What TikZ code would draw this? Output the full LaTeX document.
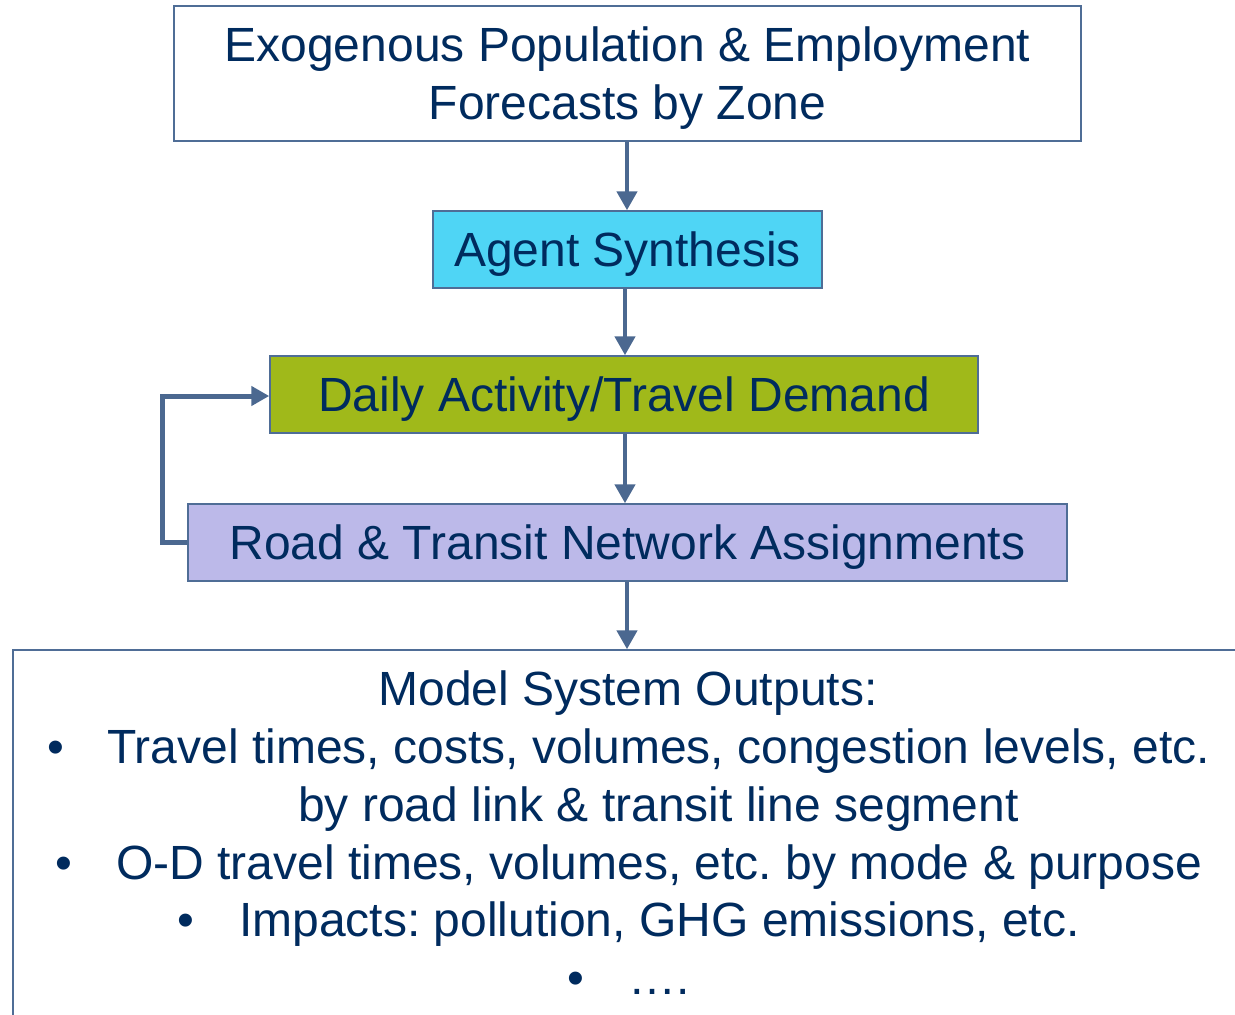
\documentclass[tikz,border=0pt]{standalone}
\usepackage{fontspec}
\setmainfont{Liberation Sans}
\usetikzlibrary{arrows.meta}
\definecolor{txt}{HTML}{002B5E}
\definecolor{bord}{HTML}{4F6D96}
\definecolor{arr}{HTML}{4B6890}
\definecolor{cyanfill}{HTML}{4FD5F5}
\definecolor{greenfill}{HTML}{A0B91A}
\definecolor{lavfill}{HTML}{BCB9E9}
\newcommand{\dn}[1]{\raisebox{-5pt}[\height][\depth]{#1}}
\tikzset{
  box/.style={draw=bord, line width=1.5pt, text=txt, inner sep=0pt, align=center,
    font=\fontsize{48}{58}\selectfont},
  flow/.style={draw=arr, line width=4.5pt, -{Triangle[length=19pt,width=20pt]}},
  ln/.style={text=txt, inner sep=0pt, font=\fontsize{48}{58}\selectfont},
}
\begin{document}
\frenchspacing
\begin{tikzpicture}[x=1pt,y=-1pt]
\useasboundingbox (0,0) rectangle (1235,1015);
\clip (0,0) rectangle (1235,1015);
\node[box, fill=white, minimum width=907pt, minimum height=135pt] (top) at (627.5,73.5)
  {\dn{\begin{tabular}{@{}c@{}}Exogenous Population \& Employment\\Forecasts by Zone\end{tabular}}};
\node[box, fill=cyanfill, minimum width=389pt, minimum height=77pt] (agent) at (627.5,249.5)
  {\dn{Agent Synthesis}};
\node[box, fill=greenfill, minimum width=708pt, minimum height=77pt] (daily) at (624,394.5)
  {\dn{Daily Activity/Travel Demand}};
\node[box, fill=lavfill, minimum width=879pt, minimum height=77pt] (road) at (627.5,542.5)
  {\dn{Road \& Transit Network Assignments}};
\node[box, fill=white, minimum width=1240pt, minimum height=390pt] (out) at (633,845) {};
\node[ln, anchor=base] (l1) at (628,705) {Model System Outputs:};
\node[ln, anchor=base west] (b2) at (47,763) {•};
\node[ln, anchor=base west] (l2) at (107,763) {Travel times, costs, volumes, congestion levels, etc.};
\node[ln, anchor=base west] (l3) at (298,821) {by road link \& transit line segment};
\node[ln, anchor=base west] (b4) at (55,879) {•};
\node[ln, anchor=base west] (l4) at (116,879) {O-D travel times, volumes, etc. by mode \& purpose};
\node[ln, anchor=base west] (b5) at (177,936) {•};
\node[ln, anchor=base west] (l5) at (239,936) {Impacts: pollution, GHG emissions, etc.};
\node[ln, anchor=base west] (b6) at (567,994) {•};
\node[ln, anchor=base west] (l6) at (628,994) {….};
\draw[flow] (top.south -| 627,0) -- (agent.north -| 627,0);
\draw[flow] (agent.south -| 625,0) -- (daily.north -| 625,0);
\draw[flow] (daily.south -| 625,0) -- (road.north -| 625,0);
\draw[flow] (road.south -| 627,0) -- (out.north -| 627,0);
\draw[flow, line width=5pt, -{Triangle[length=18pt,width=19pt]}] (road.west) -- (162,542.5) -- (162,396) -- (daily.west |- 0,396);
\end{tikzpicture}
\end{document}
